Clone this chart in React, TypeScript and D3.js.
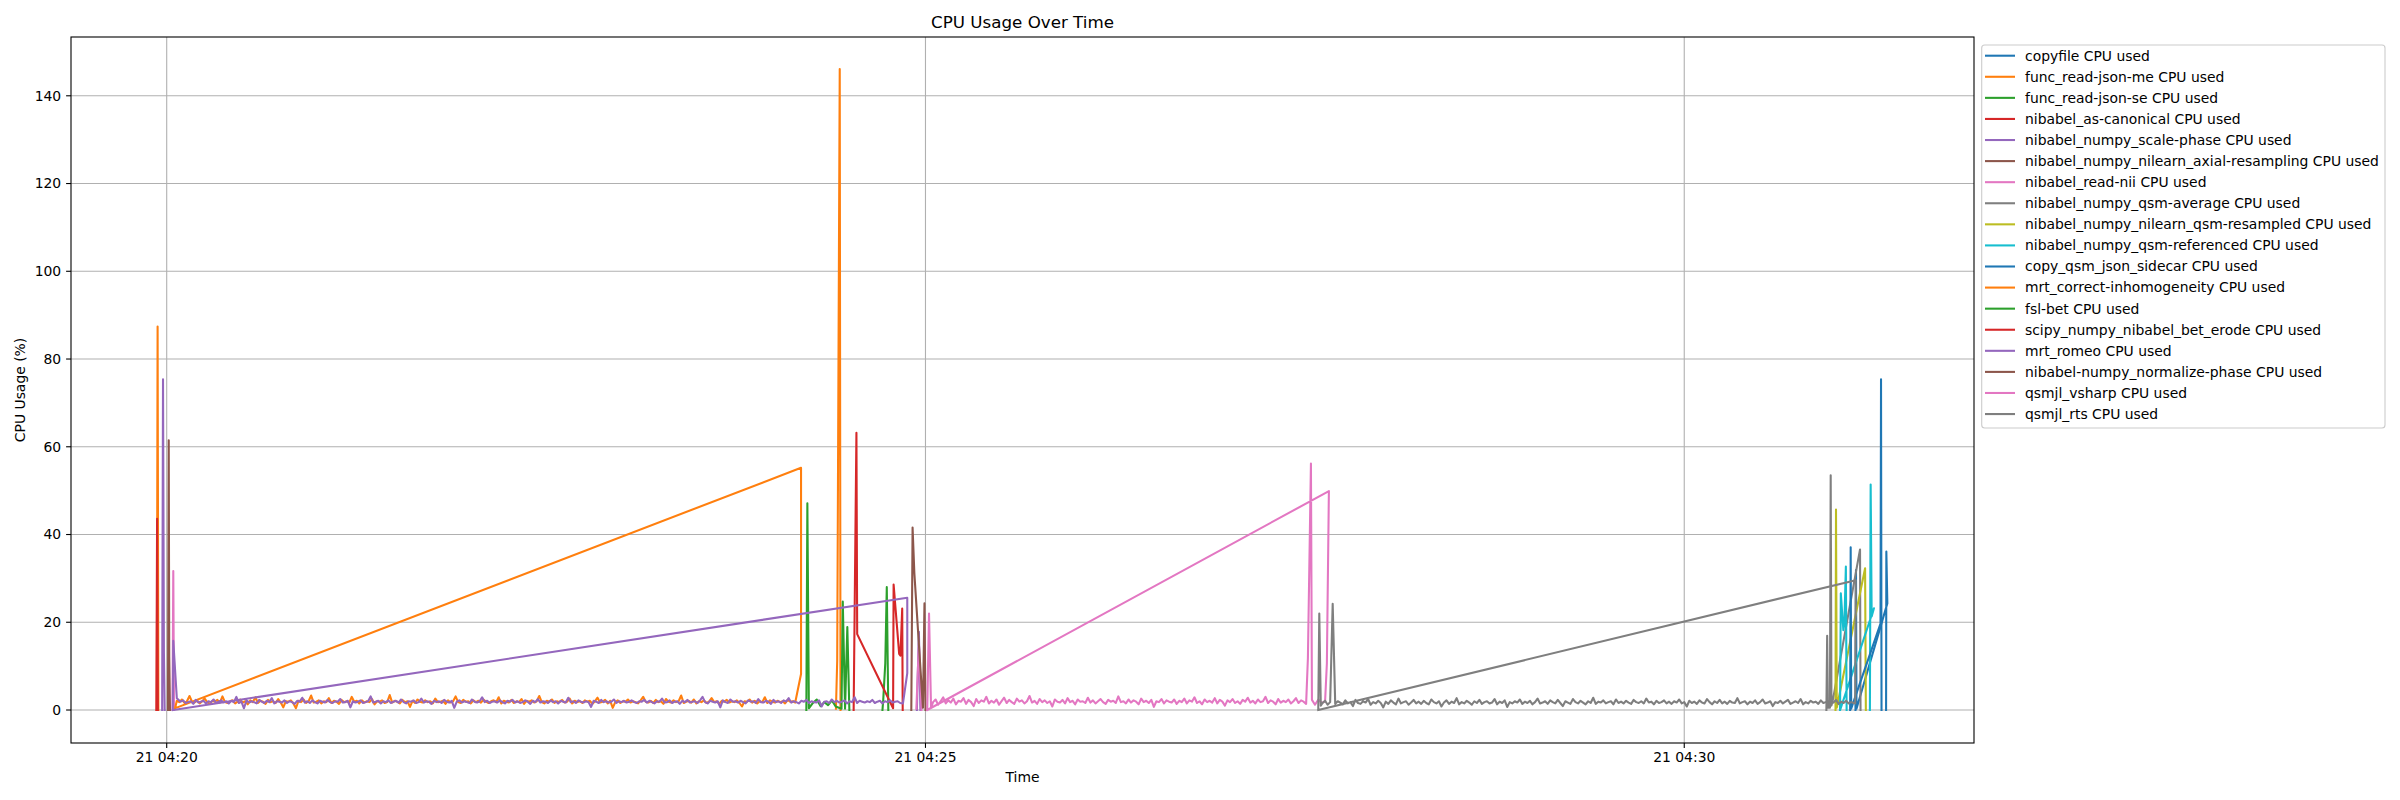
import { useEffect, useRef } from 'react';
import * as d3 from 'd3';

type Pt = [number, number] | null; // [seconds after 04:20:00, cpu %], null = break

const W = 2400;
const H = 800;
const M = { left: 71, right: 1974, top: 37, bottom: 743 };

const T0 = new Date(2024, 2, 21, 4, 20, 0).getTime();
const at = (s: number) => new Date(T0 + s * 1000);

const seriesNames = [
  'copyfile CPU used',
  'func_read-json-me CPU used',
  'func_read-json-se CPU used',
  'nibabel_as-canonical CPU used',
  'nibabel_numpy_scale-phase CPU used',
  'nibabel_numpy_nilearn_axial-resampling CPU used',
  'nibabel_read-nii CPU used',
  'nibabel_numpy_qsm-average CPU used',
  'nibabel_numpy_nilearn_qsm-resampled CPU used',
  'nibabel_numpy_qsm-referenced CPU used',
  'copy_qsm_json_sidecar CPU used',
  'mrt_correct-inhomogeneity CPU used',
  'fsl-bet CPU used',
  'scipy_numpy_nibabel_bet_erode CPU used',
  'mrt_romeo CPU used',
  'nibabel-numpy_normalize-phase CPU used',
  'qsmjl_vsharp CPU used',
  'qsmjl_rts CPU used',
];

const tab10 = ['#1f77b4', '#ff7f0e', '#2ca02c', '#d62728', '#9467bd', '#8c564b', '#e377c2', '#7f7f7f', '#bcbd22', '#17becf'];

const yTicks = [0, 20, 40, 60, 80, 100, 120, 140];
const xTickSec = [0, 300, 600];

const mrtCorrectCpu = [
  2.1, 1.8, 2.4, 1.6, 2.0, 3.2, 1.9, 1.7, 2.2, 1.5, 2.0, 2.6, 1.8, 1.4, 2.1, 1.9, 2.3, 1.7, 3.1, 1.8,
  1.6, 2.0, 2.2, 1.5, 1.9, 2.4, 1.7, 2.0, 1.3, 2.2, 1.8, 2.9, 1.6, 2.1, 1.9, 1.4, 2.3, 1.8, 2.0, 1.6,
  2.5, 1.7, 0.6, 2.0, 1.9, 2.2, 1.5, 0.4, 2.1, 1.8, 2.4, 1.6, 2.0, 3.3, 1.7, 1.9, 2.2, 1.5, 2.0, 1.8,
  2.7, 1.6, 2.1, 1.9, 1.4, 2.3, 1.8, 2.0, 1.6, 3.0, 1.9, 2.1, 1.5, 2.2, 1.7, 2.0, 1.8, 2.5, 1.3, 2.0,
  1.9, 2.2, 1.6, 1.8, 3.4, 1.7, 2.1, 1.9, 1.5, 2.3, 1.8, 2.0, 0.7, 2.1, 1.6, 2.4, 1.9, 1.7, 2.2, 1.8,
  2.0, 1.5, 2.6, 1.8, 1.9, 2.1, 1.4, 2.2, 1.7, 2.0, 3.1, 1.8, 1.6, 2.3, 1.9, 2.0, 1.5, 2.2, 1.8, 2.1,
  1.7, 2.4, 1.9, 1.6, 2.0, 2.2, 1.8, 2.9, 1.5, 2.1, 1.9, 1.7, 2.3, 1.6, 2.0, 1.8, 2.5, 1.4, 2.1, 1.9,
  2.2, 1.7, 2.0, 3.2, 1.8, 1.5, 2.1, 1.9, 2.4, 1.6, 2.0, 1.8, 2.3, 1.7, 1.9, 2.6, 1.5, 2.1, 1.8, 2.0,
  1.6, 2.2, 1.9, 2.1, 1.4, 2.0, 2.8, 1.7, 1.9, 2.3, 1.5, 2.1, 0.5, 1.8, 2.2, 1.6, 2.0, 1.9, 2.4, 1.7,
  2.0, 1.8, 1.5, 2.2, 3.0, 1.9, 1.7, 2.1, 1.6, 2.3, 1.8, 2.0, 1.4, 2.5, 1.9, 1.7, 2.2, 1.8, 2.0, 3.3,
  1.6, 1.9, 2.1, 1.7, 2.4, 1.5, 2.0, 1.8, 2.2, 1.6, 1.9, 2.7, 1.8, 2.0, 1.4, 2.1, 1.9, 2.3, 1.7, 2.0,
  1.8, 2.2, 1.6, 0.8, 2.0, 1.9, 2.4, 1.7, 2.1, 1.5, 2.0, 1.8, 2.9, 1.6, 2.2, 1.9, 1.7, 2.1, 1.8, 2.0,
  1.5, 2.3, 1.9, 2.0, 1.7,
];

const mrtRomeoCpu = [
  1.9, 2.2, 1.6, 1.8, 2.0, 1.4, 2.3, 1.7, 1.9, 2.1, 1.5, 2.0, 1.8, 2.4, 1.6, 1.9, 2.2, 1.7, 2.0, 1.5,
  2.1, 1.8, 3.0, 1.6, 1.9, 0.4, 2.2, 1.7, 2.0, 1.8, 1.5, 2.3, 1.9, 1.6, 2.1, 1.8, 2.7, 1.5, 2.0, 1.9,
  1.7, 2.2, 1.6, 2.0, 1.8, 1.4, 2.1, 1.9, 2.8, 1.7, 2.0, 1.6, 2.2, 1.8, 1.5, 2.1, 1.9, 1.7, 2.3, 1.8,
  1.6, 2.0, 1.9, 2.5, 1.7, 1.8, 2.1, 0.6, 2.0, 1.7, 1.9, 2.2, 1.6, 1.8, 2.0, 3.1, 1.7, 1.9, 2.1, 1.5,
  2.0, 1.8, 2.2, 1.6, 1.9, 2.1, 1.7, 2.4, 1.8, 1.5, 2.0, 1.9, 2.2, 1.6, 1.8, 2.6, 1.7, 2.0, 1.9, 1.4,
  2.1, 1.8, 2.0, 1.6, 2.3, 1.9, 1.7, 2.1, 0.5, 1.9, 2.2, 1.7, 2.0, 1.8, 1.6, 2.4, 1.9, 1.7, 2.0, 2.9,
  1.8, 2.1, 1.6, 1.9, 2.0, 1.7, 2.2, 1.8, 1.5, 2.1, 1.9, 2.3, 1.7, 2.0, 1.6, 1.8, 2.2, 1.9, 1.4, 2.1,
  1.8, 2.5, 1.7, 2.0, 1.9, 1.6, 2.2, 1.8, 2.0, 1.5, 2.1, 1.9, 1.7, 2.8, 1.8, 2.0, 1.6, 2.2, 1.9, 1.7,
  2.0, 1.8, 0.7, 2.1, 1.9, 1.6, 2.3, 1.8, 2.0, 1.7, 1.9, 2.4, 1.6, 2.0, 1.8, 2.1, 1.7, 1.9, 2.2, 1.8,
  1.6, 2.0, 1.9, 2.3, 1.7, 2.1, 1.8, 1.5, 2.0, 1.9, 2.6, 1.7, 1.8, 2.2, 1.6, 1.9, 2.0, 1.4, 2.1, 1.8,
  2.3, 1.7, 1.9, 2.0, 1.6, 2.2, 3.0, 1.8, 1.5, 2.1, 1.9, 1.7, 2.0, 0.6, 2.2, 1.8, 1.6, 2.4, 1.9, 2.0,
  1.7, 2.1, 1.8, 1.5, 2.2, 1.9, 2.0, 1.6, 2.5, 1.8, 1.7, 2.1, 1.9, 1.4, 2.3, 1.8, 2.0, 1.6, 2.2, 1.9,
  2.7, 1.7, 2.0, 1.8, 1.5, 2.1, 1.9, 2.3, 1.6, 2.0, 1.8, 1.7, 2.2, 0.8, 1.9, 2.0, 1.6, 2.4, 1.8, 2.1,
  1.7, 1.9, 2.2, 1.5, 2.0, 1.8, 2.9, 1.6, 2.1, 1.9, 1.7, 2.0, 1.8, 2.3, 1.6, 1.9, 2.1, 1.5, 2.0, 1.8,
  2.2, 1.7, 1.9, 2.0, 1.6,
];

const vsharpCpu = [
  1.8, 2.4, 1.2, 2.0, 2.9, 1.5, 2.2, 1.7, 2.6, 1.3, 2.1, 1.9, 2.7, 1.4, 2.3, 1.8, 0.9, 2.5, 1.6, 2.2,
  1.9, 3.0, 1.5, 2.1, 1.7, 2.4, 1.2, 2.0, 2.8, 1.6, 2.3, 1.8, 1.4, 2.6, 1.9, 2.2, 1.5, 2.0, 3.2, 1.7,
  2.1, 1.4, 2.5, 1.8, 2.2, 1.6, 2.0, 0.8, 2.4, 1.9, 1.7, 2.3, 1.5, 2.7, 1.8, 2.1, 1.3, 2.4, 1.9, 2.0,
  1.6, 2.8, 1.7, 2.2, 1.5, 2.0, 2.5, 1.8, 1.4, 2.3, 1.9, 2.1, 1.6, 3.1, 1.8, 2.0, 1.5, 2.4, 1.7, 2.2,
  1.9, 1.3, 2.6, 1.8, 2.1, 1.6, 2.3, 0.7, 2.0, 1.8, 2.5, 1.5, 2.2, 1.9, 1.7, 2.4, 1.4, 2.1, 1.8, 2.6,
  1.5, 2.2, 1.9, 2.9, 1.6, 2.0, 1.3, 2.4, 1.8, 2.1, 1.7, 2.7, 1.5, 2.3, 1.9, 1.0, 2.2, 1.8, 2.5, 1.6,
  2.0, 1.4, 2.3, 1.9, 2.8, 1.7, 2.1, 1.5, 2.4, 1.8, 2.0, 3.0, 1.6, 2.2, 1.9, 1.3, 2.5, 1.7, 2.1, 1.8,
  2.4, 1.5, 2.0, 2.7, 1.6, 2.2, 1.9, 1.4,
];
const vsharpTailCpu = [1.2, 2.4, 1.6, 2.0];

const rtsCpu = [
  1.6, 2.1, 1.2, 1.8, 24.2, 1.4, 2.0, 1.7, 1.3, 2.2, 1.5, 1.8, 0.9, 2.3, 1.6, 1.4, 2.0, 1.7, 2.5, 1.2,
  1.8, 1.5, 2.1, 1.6, 0.6, 1.9, 1.4, 2.2, 1.7, 1.3, 2.6, 1.5, 1.8, 2.0, 1.2, 1.7, 2.3, 1.5, 1.9, 1.4,
  2.1, 1.6, 1.3, 2.4, 1.8, 1.5, 2.0, 0.8, 1.7, 2.2, 1.4, 1.9, 1.6, 2.7, 1.3, 1.8, 1.5, 2.1, 1.7, 1.2,
  2.0, 1.6, 2.3, 1.4, 1.8, 2.0, 1.5, 1.7, 2.5, 1.3, 1.9, 1.6, 2.2, 0.7, 1.8, 1.5, 2.0, 1.7, 2.4, 1.4,
  1.9, 1.6, 2.1, 1.3, 1.8, 2.6, 1.5, 1.7, 2.0, 1.4, 2.2, 1.8, 1.5, 2.3, 1.6, 0.9, 2.0, 1.7, 1.4, 2.5,
  1.8, 1.5, 2.1, 1.7, 1.3, 2.0, 1.6, 2.8, 1.4, 1.9, 1.7, 2.2, 1.5, 1.8, 2.0, 1.3, 2.4, 1.6, 1.9, 1.5,
  2.1, 1.7, 1.4, 2.3, 1.8, 1.6, 2.0, 1.5, 2.6, 1.7, 1.9, 1.3, 2.1, 1.6, 1.8, 2.2, 1.5, 1.9, 1.4, 2.0,
  1.7, 2.4, 1.5, 1.8, 0.8, 2.1, 1.6, 1.9, 1.4, 2.2, 1.7, 1.5, 2.5, 1.8, 1.3, 2.0, 1.6, 2.3, 1.5, 1.9,
  1.4, 2.1, 1.7, 1.6, 2.7, 1.5, 1.8, 2.0, 1.3, 1.9, 1.6, 2.2, 1.4, 1.8, 2.4, 1.5, 1.7, 2.0, 0.9, 1.8,
  1.6, 2.1, 1.5, 1.9, 2.3, 1.4, 1.7, 2.0, 1.6, 2.5, 1.3, 1.8, 1.5, 2.1, 1.7, 1.9, 1.4, 2.2, 1.6, 1.8,
  2.0, 1.5, 1.7, 2.3, 1.4, 1.9, 1.6, 2.1, 1.5, 1.8, 1.6,
];

// evenly spaced samples between two times
const samples = (start: number, end: number, values: number[]): Pt[] =>
  values.map((v, i) => [start + (i * (end - start)) / (values.length - 1), v]);

// short steps: [seconds, cpu]
const copyfilePts: Pt[] = [[667.7, 0], [667.9, 31.9], [668.1, 0.3], [680.3, 24.3], [679.9, 36.1], [679.8, 0]];
const readJsonMePts: Pt[] = [[-3.9, 0], [-3.6, 87.4], [-3.3, 0], null, [264.6, 0.3], [265.1, 11.3], [266.1, 146.1], [266.4, 0]];
const readJsonSePts: Pt[] = [[283.0, 0], [283.3, 2.3], [284.1, 10.6], [284.7, 28.0], [285.3, 0]];
const asCanonicalPts: Pt[] = [[-4.1, 0], [-3.8, 43.6], [-3.5, 0]];
const scalePhasePts: Pt[] = [[-1.8, 0], [-1.46, 75.4], [-1.1, 13.0], [-0.8, 0], null, [296.6, 0], [297.4, 17.8], [298.0, 0]];
const axialResamplingPts: Pt[] = [[0.5, 0], [0.8, 61.5], [1.0, 12.2], [1.3, 0]];
const readNiiPts: Pt[] = [[2.3, 0], [2.6, 31.7], [2.9, 0], null, [296.4, 0.3], [297.4, 15.2], [298.4, 0]];
const qsmAveragePts: Pt[] = [[656.2, 0], [656.5, 16.9], [656.8, 0.5], [657.6, 0.5], [657.9, 53.5], [658.2, 1.0], [658.9, 2.7], [669.5, 36.6], [669.7, 0]];
const qsmResampledPts: Pt[] = [[659.8, 0], [660.0, 45.7], [660.3, 0.5], [671.5, 32.3], [671.8, 0]];
const qsmReferencedPts: Pt[] = [[661.6, 0], [661.9, 26.6], [662.9, 18.2], [663.3, 19.5], [663.9, 32.7], [664.2, 0], null,
  [673.4, 0], [673.7, 51.4], [674.1, 21.3], [675.0, 23.2], [661.8, 0.3]];
const sidecarPts: Pt[] = [[665.6, 0], [665.8, 37.1], [666.0, 0.3], [677.6, 19.7], [677.8, 75.4], [678.0, 0]];
const mrtCorrectPts: Pt[] = [[3.3, 0.4], ...samples(4.0, 248.5, mrtCorrectCpu), [250.8, 8.2], [250.8, 55.2], [3.3, 0.4]];
const fslBetPts: Pt[] = [[252.9, 0], [253.3, 47.1], [253.9, 0.4], [255.5, 1.6], [257.0, 2.4], [258.5, 0.9], [260.0, 1.8],
  [261.5, 1.1], [263.0, 2.2], [264.5, 0.8], [266.8, 0.3], [267.3, 24.7], [268.2, 0.3], [269.1, 18.9], [269.9, 0]];
const betErodePts: Pt[] = [[271.6, 0], [272.7, 63.2], [273.0, 17.3], [287.2, 0.4], [287.4, 28.6], [289.6, 12.8],
  [290.1, 12.4], [290.8, 23.1], [291.0, 0]];
const mrtRomeoPts: Pt[] = [[2.4, 0], [2.6, 15.8], [4.0, 2.7], ...samples(5.5, 290.0, mrtRomeoCpu), [291.1, 1.5],
  [292.8, 8.4], [292.8, 25.6], [2.4, 0]];
const normalizePhasePts: Pt[] = [[294.4, 0], [294.9, 41.6], [295.6, 31.2], [299.0, 0.5], [299.6, 24.3], [300.0, 0]];
const vsharpPts: Pt[] = [[300.7, 0], [301.4, 22.0], [302.2, 0.5], ...samples(303.0, 450.5, vsharpCpu), [451.2, 11.8],
  [452.4, 56.2], [452.8, 2.3], ...samples(454.0, 458.0, vsharpTailCpu), [458.7, 10.6], [459.5, 49.9], [300.7, 0]];
const rtsPts: Pt[] = [[455.3, 0], [455.7, 22.0], [456.3, 1.0], ...samples(457.0, 667.0, rtsCpu), [667.6, 1.5],
  [667.8, 29.6], [455.3, 0]];

const seriesPts: Pt[][] = [
  copyfilePts, readJsonMePts, readJsonSePts, asCanonicalPts, scalePhasePts, axialResamplingPts, readNiiPts,
  qsmAveragePts, qsmResampledPts, qsmReferencedPts, sidecarPts, mrtCorrectPts, fslBetPts, betErodePts,
  mrtRomeoPts, normalizePhasePts, vsharpPts, rtsPts,
];

export default function App() {
  const svgRef = useRef<SVGSVGElement>(null);

  useEffect(() => {
    document.body.style.margin = '0';
    if (!svgRef.current) return;
    const svg = d3.select(svgRef.current);
    svg.selectAll('*').remove();

    const x = d3.scaleTime().domain([at(-37.84), at(714.56)]).range([M.left, M.right]);
    const y = d3.scaleLinear().domain([-7.52, 153.4]).range([M.bottom, M.top]);
    const font = 'DejaVu Sans, sans-serif';

    svg.append('rect').attr('width', W).attr('height', H).attr('fill', 'white');

    svg.append('defs').append('clipPath').attr('id', 'plot-clip')
      .append('rect')
      .attr('x', M.left).attr('y', M.top)
      .attr('width', M.right - M.left).attr('height', M.bottom - M.top);

    // grid
    const grid = svg.append('g').attr('stroke', '#b0b0b0').attr('stroke-width', 1.1);
    yTicks.forEach(v => {
      grid.append('line').attr('x1', M.left).attr('x2', M.right).attr('y1', y(v)).attr('y2', y(v));
    });
    xTickSec.forEach(s => {
      grid.append('line').attr('x1', x(at(s))).attr('x2', x(at(s))).attr('y1', M.top).attr('y2', M.bottom);
    });

    // lines
    const line = d3.line<Pt>()
      .defined(d => d !== null)
      .x(d => x(at((d as [number, number])[0])))
      .y(d => y((d as [number, number])[1]));

    const lines = svg.append('g').attr('clip-path', 'url(#plot-clip)');
    seriesPts.forEach((pts, i) => {
      lines.append('path')
        .attr('d', line(pts))
        .attr('fill', 'none')
        .attr('stroke', tab10[i % 10])
        .attr('stroke-width', 2.08)
        .attr('stroke-linejoin', 'round')
        .attr('stroke-linecap', 'square');
    });

    // spines
    svg.append('rect')
      .attr('x', M.left).attr('y', M.top)
      .attr('width', M.right - M.left).attr('height', M.bottom - M.top)
      .attr('fill', 'none').attr('stroke', 'black').attr('stroke-width', 1.1);

    // ticks
    const ticks = svg.append('g').attr('font-family', font).attr('font-size', 13.9).attr('fill', 'black');
    yTicks.forEach(v => {
      ticks.append('line').attr('x1', M.left - 4.9).attr('x2', M.left).attr('y1', y(v)).attr('y2', y(v))
        .attr('stroke', 'black').attr('stroke-width', 1.1);
      ticks.append('text').attr('x', M.left - 9.8).attr('y', y(v)).attr('dy', '0.35em')
        .attr('text-anchor', 'end').text(v);
    });
    const fmt = d3.timeFormat('%d %H:%M');
    xTickSec.forEach(s => {
      const px = x(at(s));
      ticks.append('line').attr('x1', px).attr('x2', px).attr('y1', M.bottom).attr('y2', M.bottom + 4.9)
        .attr('stroke', 'black').attr('stroke-width', 1.1);
      ticks.append('text').attr('x', px).attr('y', 762).attr('text-anchor', 'middle').text(fmt(at(s)));
    });

    // labels
    const cx = (M.left + M.right) / 2;
    svg.append('text').attr('x', cx).attr('y', 28).attr('text-anchor', 'middle')
      .attr('font-family', font).attr('font-size', 16.7).text('CPU Usage Over Time');
    svg.append('text').attr('x', cx).attr('y', 782).attr('text-anchor', 'middle')
      .attr('font-family', font).attr('font-size', 13.9).text('Time');
    svg.append('text').attr('transform', `translate(25,${(M.top + M.bottom) / 2}) rotate(-90)`)
      .attr('text-anchor', 'middle').attr('font-family', font).attr('font-size', 13.9).text('CPU Usage (%)');

    // legend
    const lg = svg.append('g');
    lg.append('rect')
      .attr('x', 1981.7).attr('y', 45).attr('width', 403.3).attr('height', 383).attr('rx', 3)
      .attr('fill', 'white').attr('fill-opacity', 0.8)
      .attr('stroke', '#cccccc').attr('stroke-width', 1.1);
    seriesNames.forEach((name, i) => {
      const ly = 55.7 + i * 21.08;
      lg.append('line').attr('x1', 1985).attr('x2', 2015).attr('y1', ly).attr('y2', ly)
        .attr('stroke', tab10[i % 10]).attr('stroke-width', 2.08);
      lg.append('text').attr('x', 2025).attr('y', ly).attr('dy', '0.35em')
        .attr('font-family', font).attr('font-size', 13.9).text(name);
    });
  }, []);

  return <svg ref={svgRef} width={W} height={H} style={{ display: 'block' }} />;
}
